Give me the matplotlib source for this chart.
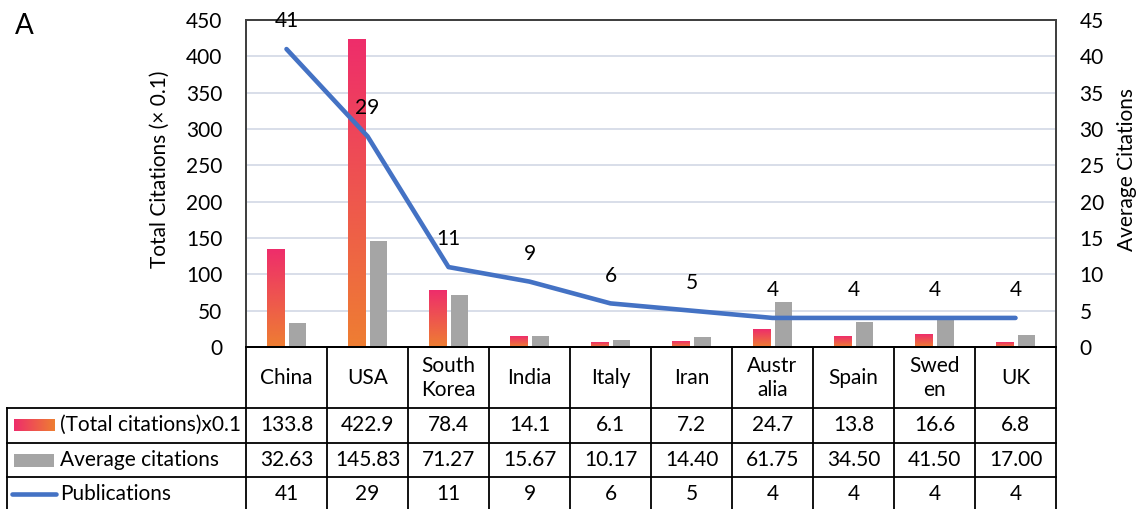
import numpy as np
import matplotlib
matplotlib.use("Agg")
import matplotlib.pyplot as plt
from matplotlib.colors import LinearSegmentedColormap

# ---- data ----
countries = ["China", "USA", "South\nKorea", "India", "Italy", "Iran",
             "Austr\nalia", "Spain", "Swed\nen", "UK"]
total_citations_x01 = [133.8, 422.9, 78.4, 14.1, 6.1, 7.2, 24.7, 13.8, 16.6, 6.8]
average_citations = [32.63, 145.83, 71.27, 15.67, 10.17, 14.40, 61.75, 34.50, 41.50, 17.00]
publications = [41, 29, 11, 9, 6, 5, 4, 4, 4, 4]
row_labels = ["(Total citations)x0.1", "Average citations", "Publications"]
left_ticks = list(range(0, 451, 50))
right_ticks = list(range(0, 46, 5))

# ---- style ----
plt.rcParams['font.family'] = ['Lato', 'DejaVu Sans']
FS = 15
PINK = '#EE2D6B'
ORANGE = '#EE7E32'
GRAY = '#A5A5A5'
BLUE = '#4472C4'
GRID = '#D8DEE9'
FRAME = '#404040'
grad = LinearSegmentedColormap.from_list('pink_orange', [ORANGE, PINK])

W, H = 1138, 509
fig = plt.figure(figsize=(W / 100, H / 100), dpi=100)


def px(l, b, r, t):
    return [l / W, 1 - b / H, (r - l) / W, (b - t) / H]


n = len(countries)
x = np.arange(n)
bw = 0.22
off = 0.135

# ---- main chart ----
ax = fig.add_axes(px(246, 347, 1056, 20))
vgrad = np.linspace(0, 1, 256).reshape(-1, 1)
for xi, v in zip(x, total_citations_x01):
    ax.imshow(vgrad, cmap=grad, origin='lower', aspect='auto',
              extent=[xi - off - bw / 2, xi - off + bw / 2, 0, v],
              interpolation='bilinear', zorder=2)
ax.bar(x + off, average_citations, bw, color=GRAY, zorder=2)
ax.set_xlim(-0.5, n - 0.5)
ax.set_ylim(0, 450)
ax.set_yticks(left_ticks)
ax.set_xticks([])
ax.grid(axis='y', color=GRID, lw=1.4, zorder=0)
ax.set_axisbelow(True)
ax.tick_params(axis='y', length=0, pad=17, labelsize=FS)

ax2 = ax.twinx()
ax2.plot(x, publications, color=BLUE, lw=3.3, solid_capstyle='round', zorder=5)
ax2.set_ylim(0, 45)
ax2.set_yticks(right_ticks)
ax2.tick_params(axis='y', length=0, pad=17, labelsize=FS)
for xi, p in zip(x, publications):
    ax2.annotate(str(p), (xi, p), xytext=(0, 20), textcoords='offset points',
                 ha='center', va='center', fontsize=FS)

for a in (ax, ax2):
    for s in a.spines.values():
        s.set_color(FRAME)
        s.set_linewidth(1.3)
    a.spines['bottom'].set_color('black')

fig.text(160 / W, 1 - 169 / H, "Total Citations (× 0.1)", rotation=90,
         ha='center', va='center', fontsize=FS)
fig.text(1127 / W, 1 - 170 / H, "Average Citations", rotation=90,
         ha='center', va='center', fontsize=FS)
fig.text(24 / W, 1 - 26 / H, "A", ha='center', va='center', fontsize=20)

# ---- data table under the chart ----
label_col = 2.95
L = -0.5 - label_col
tab = fig.add_axes(px(7, 509, 1056, 347))
tab.set_xlim(L, n - 0.5)
tab.set_ylim(162, 0)
tab.axis('off')

header_h = 61
row_h = 34.5
rows_top = [header_h + i * row_h for i in range(3)]
bottom = header_h + 3 * row_h

lk = dict(color='black', lw=1.3, clip_on=False)
tab.plot([-0.5, n - 0.5], [0, 0], **lk)
for yt in rows_top + [bottom]:
    tab.plot([L, n - 0.5], [yt, yt], **lk)
for i in range(n + 1):
    tab.plot([i - 0.5, i - 0.5], [0, bottom], **lk)
tab.plot([L, L], [header_h, bottom], **lk)

for xi, c in zip(x, countries):
    tab.text(xi, header_h / 2, c, ha='center', va='center', fontsize=FS,
             linespacing=1.25)

value_rows = [
    [f"{v:.1f}" for v in total_citations_x01],
    [f"{v:.2f}" for v in average_citations],
    [str(v) for v in publications],
]
for r, vals in enumerate(value_rows):
    yc = rows_top[r] + row_h / 2
    for xi, s in zip(x, vals):
        tab.text(xi, yc, s, ha='center', va='center', fontsize=FS)
    tab.text(L + 53 / 81, yc, row_labels[r], ha='left', va='center', fontsize=FS)

# legend keys
hgrad = np.linspace(1, 0, 256).reshape(1, -1)
sw_l, sw_r = L + 7 / 81, L + 47 / 81
tab.imshow(hgrad, cmap=grad, aspect='auto', interpolation='bilinear',
           extent=[sw_l, sw_r, rows_top[0] + 23, rows_top[0] + 11])
tab.fill_between([sw_l, sw_r], rows_top[1] + 11, rows_top[1] + 24, color=GRAY, lw=0)
tab.plot([L + 5 / 81, L + 49 / 81], [rows_top[2] + 17] * 2, color=BLUE, lw=3.3,
         solid_capstyle='round')
tab.set_xlim(L, n - 0.5)
tab.set_ylim(162, 0)

fig.savefig("out.png", dpi=100)
